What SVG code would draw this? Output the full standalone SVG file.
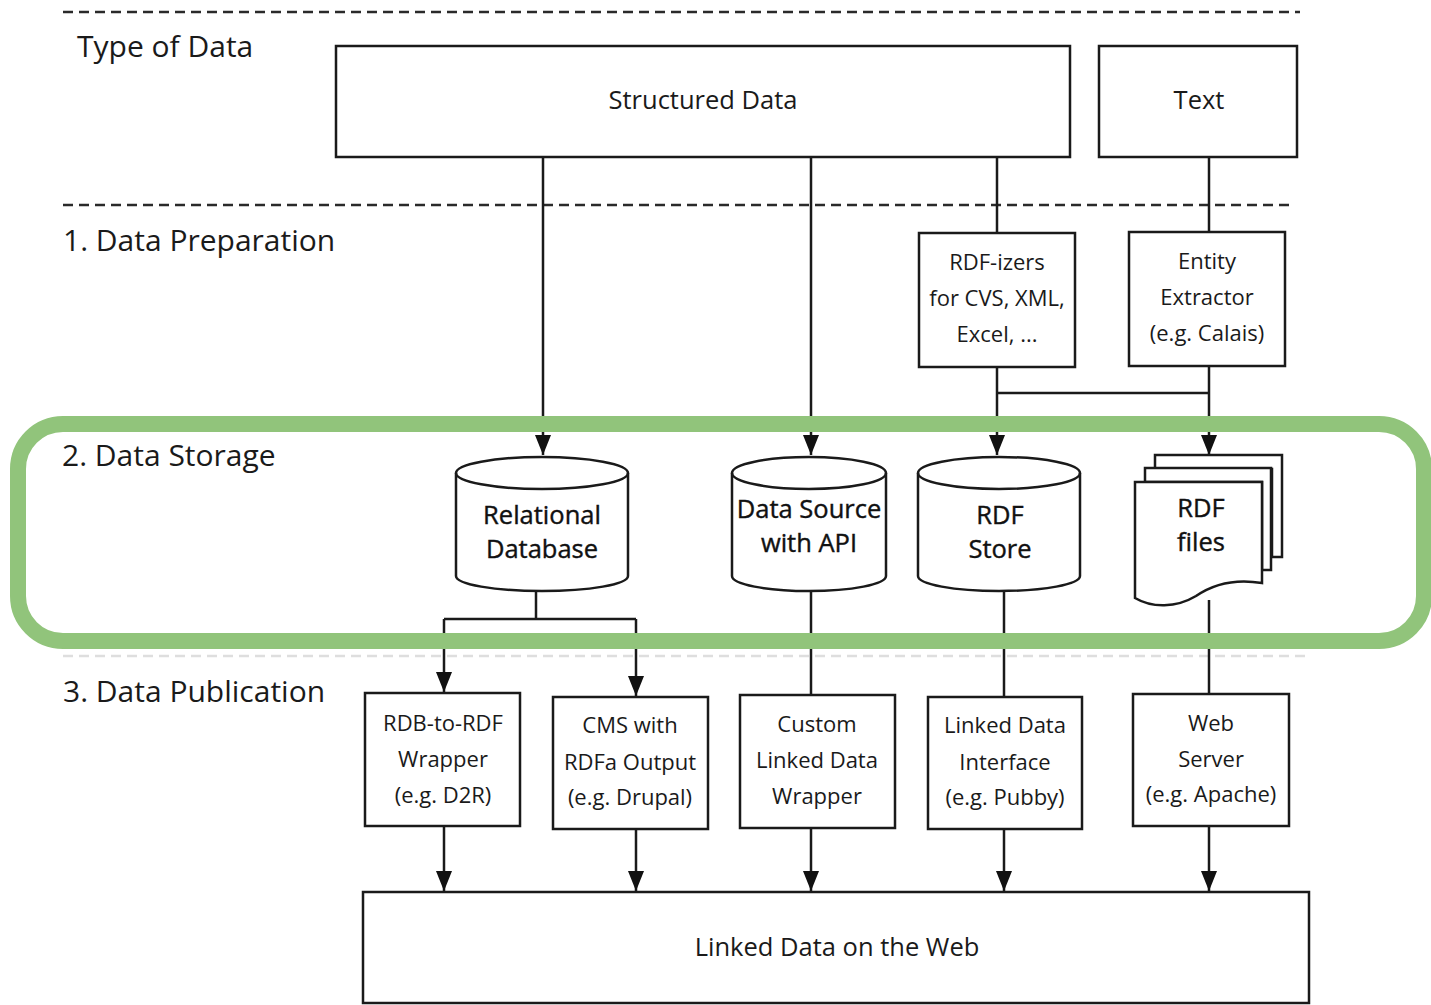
<svg xmlns="http://www.w3.org/2000/svg" width="1431" height="1005" viewBox="0 0 1431 1005">
<defs>
<style>
.box{fill:#fff;stroke:#1a1a1a;stroke-width:2.5}
.ln{fill:none;stroke:#1a1a1a;stroke-width:2.5}
.dash{fill:none;stroke:#2a2a2a;stroke-width:2.5;stroke-dasharray:10 6}
.t{font-family:"Open Sans","Liberation Sans",sans-serif;font-size:22px;fill:#1a1a1a;text-anchor:middle}
.tl{font-family:"Open Sans","Liberation Sans",sans-serif;font-size:25.5px;fill:#1a1a1a;text-anchor:middle}
.c{font-family:"Open Sans","Liberation Sans",sans-serif;font-size:25.5px;fill:#111;text-anchor:middle;stroke:#111;stroke-width:0.4}
.h{font-family:"Open Sans","Liberation Sans",sans-serif;font-size:30px;fill:#1a1a1a}
</style>
<marker id="arr" viewBox="0 0 20 16" refX="20" refY="8" markerWidth="20" markerHeight="16" markerUnits="userSpaceOnUse" orient="auto"><path d="M0,0 L20,8 L0,16 z" fill="#111"/></marker>
</defs>
<rect width="1431" height="1005" fill="#fff"/>

<g id="lanes">
<line class="dash" x1="63" y1="12" x2="1300" y2="12"/>
<line class="dash" x1="63" y1="205" x2="1292" y2="205"/>
<line x1="63" y1="656" x2="1310" y2="656" stroke="#dedede" stroke-width="2.5" stroke-dasharray="10 6"/>
<text class="h" x="77" y="57">Type of Data</text>
<text class="h" x="63" y="251">1. Data Preparation</text>
<text class="h" x="62" y="466">2. Data Storage</text>
<text class="h" x="63" y="702">3. Data Publication</text>
</g>

<g id="connectors">
<path class="ln" d="M543,157 V455" marker-end="url(#arr)"/>
<path class="ln" d="M811,157 V455" marker-end="url(#arr)"/>
<path class="ln" d="M997,157 V233"/>
<path class="ln" d="M1209,157 V232"/>
<path class="ln" d="M997,367 V455" marker-end="url(#arr)"/>
<path class="ln" d="M1209,366 V455" marker-end="url(#arr)"/>
<path class="ln" d="M997,393 H1209"/>
<path class="ln" d="M536,590 V619"/>
<path class="ln" d="M444,619 H636"/>
<path class="ln" d="M444,619 V692" marker-end="url(#arr)"/>
<path class="ln" d="M636,619 V696" marker-end="url(#arr)"/>
<path class="ln" d="M811,590 V695"/>
<path class="ln" d="M1004,590 V697"/>
<path class="ln" d="M1209,600 V694"/>
<path class="ln" d="M444,826 V891" marker-end="url(#arr)"/>
<path class="ln" d="M636,829 V891" marker-end="url(#arr)"/>
<path class="ln" d="M811,828 V891" marker-end="url(#arr)"/>
<path class="ln" d="M1004,829 V891" marker-end="url(#arr)"/>
<path class="ln" d="M1209,826 V891" marker-end="url(#arr)"/>
</g>

<g id="structured-data">
<rect class="box" x="336" y="46" width="734" height="111"/>
<text class="tl" x="703" y="109">Structured Data</text>
</g>
<g id="text-data">
<rect class="box" x="1099" y="46" width="198" height="111"/>
<text class="tl" x="1199" y="109">Text</text>
</g>

<g id="rdf-izers">
<rect class="box" x="919" y="233" width="156" height="134"/>
<text class="t" x="997" y="270">RDF-izers</text>
<text class="t" x="997" y="306">for CVS, XML,</text>
<text class="t" x="997" y="342">Excel, ...</text>
</g>
<g id="entity-extractor">
<rect class="box" x="1129" y="232" width="156" height="134"/>
<text class="t" x="1207" y="269">Entity</text>
<text class="t" x="1207" y="305">Extractor</text>
<text class="t" x="1207" y="341">(e.g. Calais)</text>
</g>

<g id="relational-database">
<path class="box" d="M456,473 A86,16 0 0 1 628,473 V576 A86,15 0 0 1 456,576 Z"/>
<path class="ln" d="M456,473 A86,16 0 0 0 628,473"/>
<text class="c" x="542" y="524">Relational</text>
<text class="c" x="542" y="558">Database</text>
</g>
<g id="data-source-api">
<path class="box" d="M732,473 A77,16 0 0 1 886,473 V576 A77,15 0 0 1 732,576 Z"/>
<path class="ln" d="M732,473 A77,16 0 0 0 886,473"/>
<text class="c" x="809" y="518">Data Source</text>
<text class="c" x="809" y="552">with API</text>
</g>
<g id="rdf-store">
<path class="box" d="M918,473 A81,16 0 0 1 1080,473 V576 A81,15 0 0 1 918,576 Z"/>
<path class="ln" d="M918,473 A81,16 0 0 0 1080,473"/>
<text class="c" x="1000" y="524">RDF</text>
<text class="c" x="1000" y="558">Store</text>
</g>
<g id="rdf-files">
<path class="box" d="M1155,455 H1282 V557 H1272 V469 H1155 Z"/>
<path class="box" d="M1145,468 H1271 V570 H1262 V482 H1145 Z"/>
<path class="box" d="M1135,482 H1262 V583 C1232,578 1212,585 1196,596 C1176,608 1152,608 1135,598 Z"/>
<text class="c" x="1201" y="517">RDF</text>
<text class="c" x="1201" y="551">files</text>
</g>

<g id="storage-highlight">
<rect x="18" y="424" width="1406" height="217" rx="45" ry="45" fill="none" stroke="#91c47b" stroke-width="16"/>
</g>

<g id="rdb-to-rdf">
<rect class="box" x="365" y="693" width="155" height="133"/>
<text class="t" x="443" y="731">RDB-to-RDF</text>
<text class="t" x="443" y="767">Wrapper</text>
<text class="t" x="443" y="803">(e.g. D2R)</text>
</g>
<g id="cms-rdfa">
<rect class="box" x="553" y="697" width="155" height="132"/>
<text class="t" x="630" y="733">CMS with</text>
<text class="t" x="630" y="770">RDFa Output</text>
<text class="t" x="630" y="805">(e.g. Drupal)</text>
</g>
<g id="custom-wrapper">
<rect class="box" x="740" y="695" width="155" height="133"/>
<text class="t" x="817" y="732">Custom</text>
<text class="t" x="817" y="768">Linked Data</text>
<text class="t" x="817" y="804">Wrapper</text>
</g>
<g id="ld-interface">
<rect class="box" x="928" y="697" width="154" height="132"/>
<text class="t" x="1005" y="733">Linked Data</text>
<text class="t" x="1005" y="770">Interface</text>
<text class="t" x="1005" y="805">(e.g. Pubby)</text>
</g>
<g id="web-server">
<rect class="box" x="1133" y="694" width="156" height="132"/>
<text class="t" x="1211" y="731">Web</text>
<text class="t" x="1211" y="767">Server</text>
<text class="t" x="1211" y="802">(e.g. Apache)</text>
</g>

<g id="linked-data-web">
<rect class="box" x="363" y="892" width="946" height="111"/>
<text class="tl" x="837" y="956">Linked Data on the Web</text>
</g>
</svg>
